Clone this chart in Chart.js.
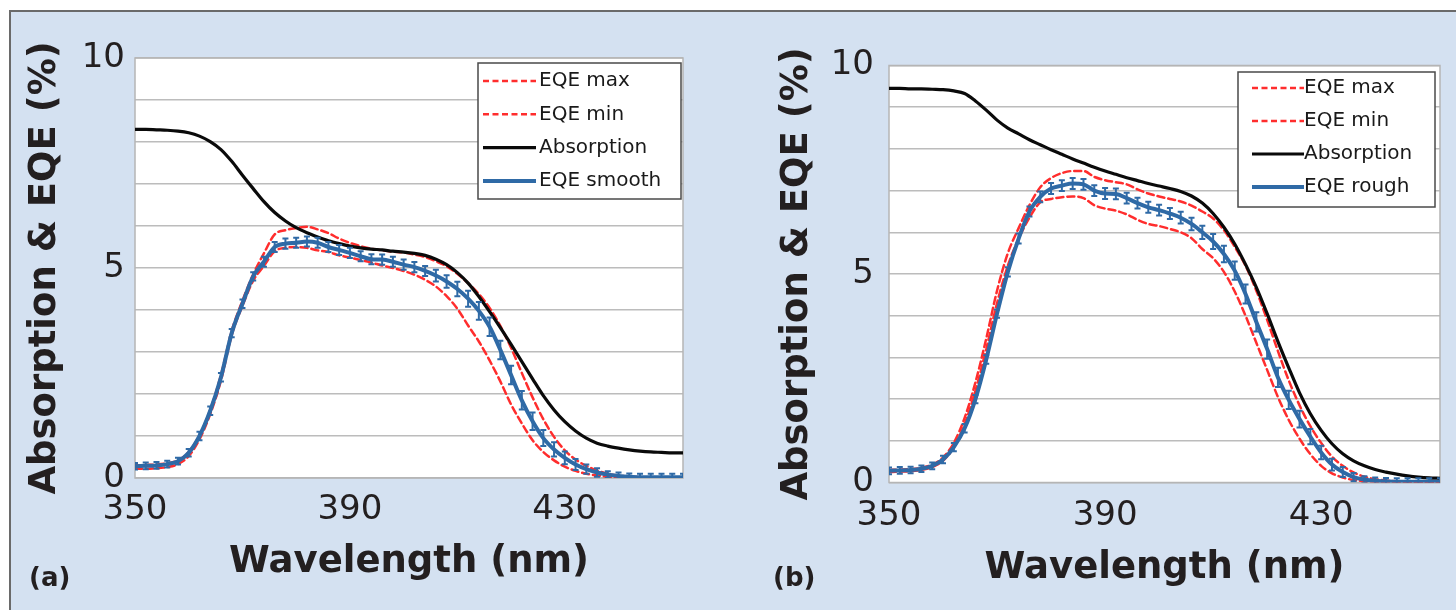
<!DOCTYPE html>
<html><head><meta charset="utf-8">
<script src="https://cdn.jsdelivr.net/npm/chart.js@4.4.1/dist/chart.umd.min.js"></script>
<style>
html,body{margin:0;padding:0;background:#fff;width:1456px;height:610px;overflow:hidden;}
#frame{position:absolute;left:9px;top:10px;width:1447px;height:600px;background:#d4e1f1;border-top:2px solid #6a6a6a;border-left:2px solid #6a6a6a;box-sizing:border-box;}
canvas{position:absolute;}
#ca{left:10px;top:11px;}
#cb{left:740px;top:11px;}
</style></head><body>
<div id="frame"></div>
<canvas id="ca" width="725" height="599"></canvas>
<canvas id="cb" width="716" height="599"></canvas>
<script>
// ---------- data ----------
const wavelengths = [350,352,354,356,358,360,362,364,366,368,370,372,374,376,378,380,382,384,386,388,390,392,394,396,398,400,402,404,406,408,410,412,414,416,418,420,422,424,426,428,430,432,434,436,438,440,442,444,446,448,450,452];
const xTickValues = [350, 390, 430];
const yTickLabels = [0, 5, 10];
const seriesNamesA = ['EQE max', 'EQE min', 'Absorption', 'EQE smooth'];
const seriesNamesB = ['EQE max', 'EQE min', 'Absorption', 'EQE rough'];
const panelLabels = ['(a)', '(b)'];
const xTitle = 'Wavelength (nm)';
const yTitle = 'Absorption & EQE (%)';

// panel (a)
const eqeMaxA = [0.30,0.31,0.32,0.35,0.42,0.62,1.02,1.62,2.45,3.50,4.22,4.85,5.35,5.80,5.90,5.95,5.98,5.92,5.83,5.70,5.60,5.52,5.46,5.42,5.39,5.37,5.32,5.26,5.16,5.04,4.86,4.64,4.38,4.05,3.62,3.10,2.50,1.92,1.40,0.98,0.66,0.44,0.29,0.18,0.10,0.06,0.03,0.02,0.01,0.01,0.01,0.01];
const eqeMinA = [0.22,0.22,0.23,0.26,0.33,0.52,0.92,1.52,2.32,3.40,4.10,4.70,5.05,5.40,5.48,5.50,5.48,5.42,5.38,5.30,5.25,5.19,5.13,5.06,5.00,4.93,4.84,4.72,4.56,4.33,4.03,3.63,3.25,2.80,2.30,1.75,1.30,0.90,0.62,0.42,0.27,0.17,0.10,0.06,0.03,0.02,0.01,0.01,0.01,0.01,0.01,0.01];
const absorptionA = [8.30,8.30,8.29,8.28,8.26,8.22,8.14,8.01,7.82,7.54,7.21,6.89,6.58,6.32,6.12,5.96,5.84,5.74,5.65,5.58,5.52,5.48,5.45,5.43,5.40,5.38,5.35,5.30,5.21,5.08,4.89,4.64,4.32,3.96,3.58,3.18,2.77,2.36,1.96,1.62,1.34,1.12,0.95,0.83,0.76,0.71,0.67,0.64,0.62,0.61,0.60,0.60];
const eqeSmoothA = [0.28,0.29,0.30,0.33,0.40,0.60,1.00,1.60,2.40,3.45,4.15,4.80,5.15,5.50,5.58,5.60,5.63,5.60,5.50,5.43,5.36,5.28,5.21,5.20,5.15,5.08,5.02,4.93,4.82,4.68,4.50,4.27,3.98,3.60,3.05,2.45,1.85,1.35,0.95,0.68,0.48,0.32,0.21,0.13,0.08,0.05,0.03,0.02,0.02,0.02,0.02,0.02];
const errSmoothA = [0.08,0.08,0.08,0.08,0.08,0.09,0.10,0.10,0.10,0.10,0.10,0.10,0.12,0.12,0.12,0.12,0.12,0.12,0.12,0.12,0.12,0.12,0.12,0.12,0.12,0.12,0.12,0.12,0.14,0.15,0.17,0.19,0.21,0.22,0.22,0.22,0.22,0.21,0.19,0.17,0.15,0.13,0.11,0.10,0.08,0.08,0.08,0.08,0.08,0.08,0.08,0.08];

// panel (b)
const eqeMaxB = [0.30,0.31,0.32,0.35,0.43,0.60,0.95,1.55,2.40,3.45,4.60,5.50,6.10,6.65,7.08,7.30,7.42,7.47,7.47,7.33,7.25,7.20,7.15,7.03,6.93,6.86,6.80,6.74,6.64,6.50,6.33,6.05,5.65,5.20,4.60,3.90,3.15,2.45,1.85,1.35,0.95,0.62,0.40,0.24,0.14,0.08,0.05,0.03,0.02,0.01,0.01,0.01];
const eqeMinB = [0.25,0.26,0.27,0.30,0.37,0.52,0.85,1.40,2.20,3.20,4.30,5.20,5.85,6.35,6.72,6.80,6.84,6.86,6.82,6.65,6.57,6.52,6.43,6.30,6.20,6.15,6.08,6.00,5.86,5.60,5.38,5.05,4.58,4.00,3.35,2.70,2.05,1.50,1.05,0.68,0.40,0.22,0.12,0.06,0.03,0.02,0.01,0.01,0.01,0.01,0.01,0.01];
const absorptionB = [9.45,9.45,9.44,9.44,9.43,9.42,9.39,9.33,9.15,8.93,8.69,8.50,8.36,8.22,8.10,7.98,7.87,7.76,7.66,7.56,7.47,7.39,7.31,7.24,7.17,7.11,7.05,6.98,6.87,6.70,6.45,6.12,5.72,5.23,4.68,4.05,3.38,2.75,2.15,1.65,1.25,0.93,0.69,0.52,0.40,0.31,0.25,0.20,0.16,0.13,0.11,0.10];
const eqeRoughB = [0.28,0.29,0.30,0.33,0.40,0.55,0.85,1.30,2.00,2.95,4.05,5.05,5.85,6.50,6.85,7.05,7.12,7.17,7.15,7.00,6.93,6.92,6.82,6.70,6.60,6.53,6.45,6.35,6.20,6.00,5.78,5.48,5.08,4.52,3.85,3.20,2.52,1.98,1.52,1.10,0.72,0.43,0.25,0.13,0.07,0.04,0.03,0.02,0.02,0.02,0.02,0.02];
const errRoughB = [0.08,0.08,0.08,0.08,0.08,0.09,0.10,0.10,0.10,0.10,0.10,0.11,0.12,0.12,0.13,0.13,0.13,0.13,0.13,0.13,0.13,0.13,0.13,0.13,0.13,0.13,0.13,0.14,0.15,0.16,0.18,0.20,0.22,0.23,0.23,0.23,0.23,0.22,0.20,0.18,0.16,0.14,0.12,0.10,0.08,0.08,0.08,0.08,0.08,0.08,0.08,0.08];

// ---------- styles ----------
const RED = '#ff2d2d', BLACK = '#0a0a0a', BLUE = '#2f6aa6';
const BG_TEXT = '#231f20';
Chart.defaults.font.family = 'DejaVu Sans';

function pts(vals){ return wavelengths.map((w,i)=>({x:w, y:vals[i]})); }

const plotBgPlugin = {
  id:'plotBg',
  beforeDraw(chart){
    const {ctx, chartArea:a} = chart;
    ctx.save(); ctx.fillStyle = '#ffffff';
    ctx.fillRect(a.left, a.top, a.right-a.left, a.bottom-a.top);
    ctx.restore();
  },
  beforeDatasetsDraw(chart){
    const {ctx, chartArea:a} = chart;
    ctx.save(); ctx.strokeStyle = '#b5b5b5'; ctx.lineWidth = 1.5;
    ctx.strokeRect(a.left, a.top, a.right-a.left, a.bottom-a.top);
    ctx.restore();
  }
};

const errorBarPlugin = {
  id:'errorBars',
  afterDatasetsDraw(chart, args, opts){
    const {ctx, chartArea:a} = chart;
    const xs = chart.scales.x, ys = chart.scales.y;
    const vals = chart.data.datasets[opts.datasetIndex].data;
    ctx.save();
    ctx.beginPath(); ctx.rect(a.left, a.top-5, a.right-a.left, a.bottom-a.top+5); ctx.clip();
    ctx.strokeStyle = opts.color; ctx.lineWidth = opts.lineWidth;
    vals.forEach((p,i)=>{
      const e = opts.errors[i];
      const px = xs.getPixelForValue(p.x);
      const y1 = ys.getPixelForValue(p.y + e), y2 = ys.getPixelForValue(p.y - e);
      const hw = opts.capWidth/2;
      ctx.beginPath();
      ctx.moveTo(px, y1); ctx.lineTo(px, y2);
      ctx.moveTo(px-hw, y1); ctx.lineTo(px+hw, y1);
      ctx.moveTo(px-hw, y2); ctx.lineTo(px+hw, y2);
      ctx.stroke();
    });
    ctx.restore();
  }
};

const boxLegendPlugin = {
  id:'boxLegend',
  afterDraw(chart, args, o){
    const {ctx, chartArea:a} = chart;
    const x0 = a.right - o.right - o.width, y0 = a.top + o.top;
    ctx.save();
    ctx.fillStyle = '#fff'; ctx.fillRect(x0, y0, o.width, o.height);
    ctx.strokeStyle = '#4a4a4a'; ctx.lineWidth = 1.5; ctx.strokeRect(x0, y0, o.width, o.height);
    chart.data.datasets.forEach((ds,i)=>{
      const cy = y0 + o.firstRow + i*o.rowGap;
      ctx.beginPath();
      ctx.setLineDash(ds.borderDash ? [6,3.5] : []);
      ctx.strokeStyle = ds.borderColor; ctx.lineWidth = ds.borderWidth;
      ctx.moveTo(x0 + o.sampleStart, cy); ctx.lineTo(x0 + o.sampleEnd, cy); ctx.stroke();
      ctx.setLineDash([]);
      ctx.fillStyle = '#1a1a1a'; ctx.font = '20px "DejaVu Sans"';
      ctx.textBaseline = 'middle'; ctx.textAlign = 'left';
      ctx.fillText(ds.label, x0 + o.textStart, cy);
    });
    ctx.restore();
  }
};

const panelLabelPlugin = {
  id:'panelLabel',
  afterDraw(chart, args, o){
    const ctx = chart.ctx;
    ctx.save(); ctx.fillStyle = BG_TEXT; ctx.font = 'bold 26px "DejaVu Sans"';
    ctx.textBaseline = 'middle'; ctx.textAlign = 'left';
    ctx.fillText(o.text, o.x, o.y); ctx.restore();
  }
};

function makeChart(id, names, maxV, minV, absV, mainV, errV, L){
  return new Chart(document.getElementById(id), {
    type:'line',
    data:{ datasets:[
      {label:names[0], data:pts(maxV), borderColor:RED, borderWidth:2.5, borderDash:[7,4], pointRadius:0, order:3, fill:false},
      {label:names[1], data:pts(minV), borderColor:RED, borderWidth:2.5, borderDash:[7,4], pointRadius:0, order:2, fill:false},
      {label:names[2], data:pts(absV), borderColor:BLACK, borderWidth:3.2, pointRadius:0, order:1, fill:false},
      {label:names[3], data:pts(mainV), borderColor:BLUE, borderWidth:4, pointRadius:0, order:0, fill:false}
    ]},
    plugins:[plotBgPlugin, errorBarPlugin, boxLegendPlugin, panelLabelPlugin],
    options:{
      responsive:false, animation:false, devicePixelRatio:1,
      layout:{padding:{top:L.padTop, right:L.padRight, left:0, bottom:0}},
      elements:{line:{tension:0.4, cubicInterpolationMode:'monotone', borderCapStyle:'round', borderJoinStyle:'round'}},
      plugins:{
        legend:{display:false}, tooltip:{enabled:false},
        errorBars:{datasetIndex:3, errors:errV, color:BLUE, lineWidth:2, capWidth:6},
        boxLegend:L.legend,
        panelLabel:L.label
      },
      scales:{
        x:{type:'linear', min:350, max:452,
          afterBuildTicks(s){ s.ticks = xTickValues.map(v=>({value:v})); },
          afterFit(s){ s.height = L.xAxisH; },
          grid:{display:false, drawTicks:false}, border:{display:false},
          ticks:{font:{size:34}, color:BG_TEXT, padding:L.xTickPad, maxRotation:0, autoSkip:false, callback:v=>String(v)},
          title:{display:true, text:xTitle, font:{size:37, weight:'bold'}, color:BG_TEXT, padding:{top:0, bottom:L.xTitlePad}}
        },
        y:{type:'linear', min:0, max:10,
          afterFit(s){ s.width = L.yAxisW; },
          grid:{color:'#bcbcbc', lineWidth:1.5, drawTicks:false}, border:{display:false},
          ticks:{stepSize:1, autoSkip:false, font:{size:34}, color:BG_TEXT, padding:L.yTickPad,
            callback:v=> yTickLabels.includes(v) ? String(v) : ''},
          title:{display:true, text:yTitle, font:{size:37, weight:'bold'}, color:BG_TEXT, padding:{top:L.yTitlePad, bottom:0}}
        }
      }
    }
  });
}

makeChart('ca', seriesNamesA, eqeMaxA, eqeMinA, absorptionA, eqeSmoothA, errSmoothA, {
  padTop:47, padRight:52, xAxisH:132, yAxisW:125, xTickPad:11.6, yTickPad:10, xTitlePad:25.8, yTitlePad:12.8,
  legend:{right:2, top:5, width:203, height:136, firstRow:18, rowGap:33.3, sampleStart:5, sampleEnd:58, textStart:61},
  label:{text:panelLabels[0], x:19, y:568}
});
makeChart('cb', seriesNamesB, eqeMaxB, eqeMinB, absorptionB, eqeRoughB, errRoughB, {
  padTop:54.5, padRight:16, xAxisH:127.5, yAxisW:149, xTickPad:13.6, yTickPad:15, xTitlePad:19.8, yTitlePad:34.8,
  legend:{right:5, top:6.5, width:197, height:135, firstRow:16, rowGap:33, sampleStart:14, sampleEnd:66, textStart:66},
  label:{text:panelLabels[1], x:33, y:568}
});
</script>
</body></html>
